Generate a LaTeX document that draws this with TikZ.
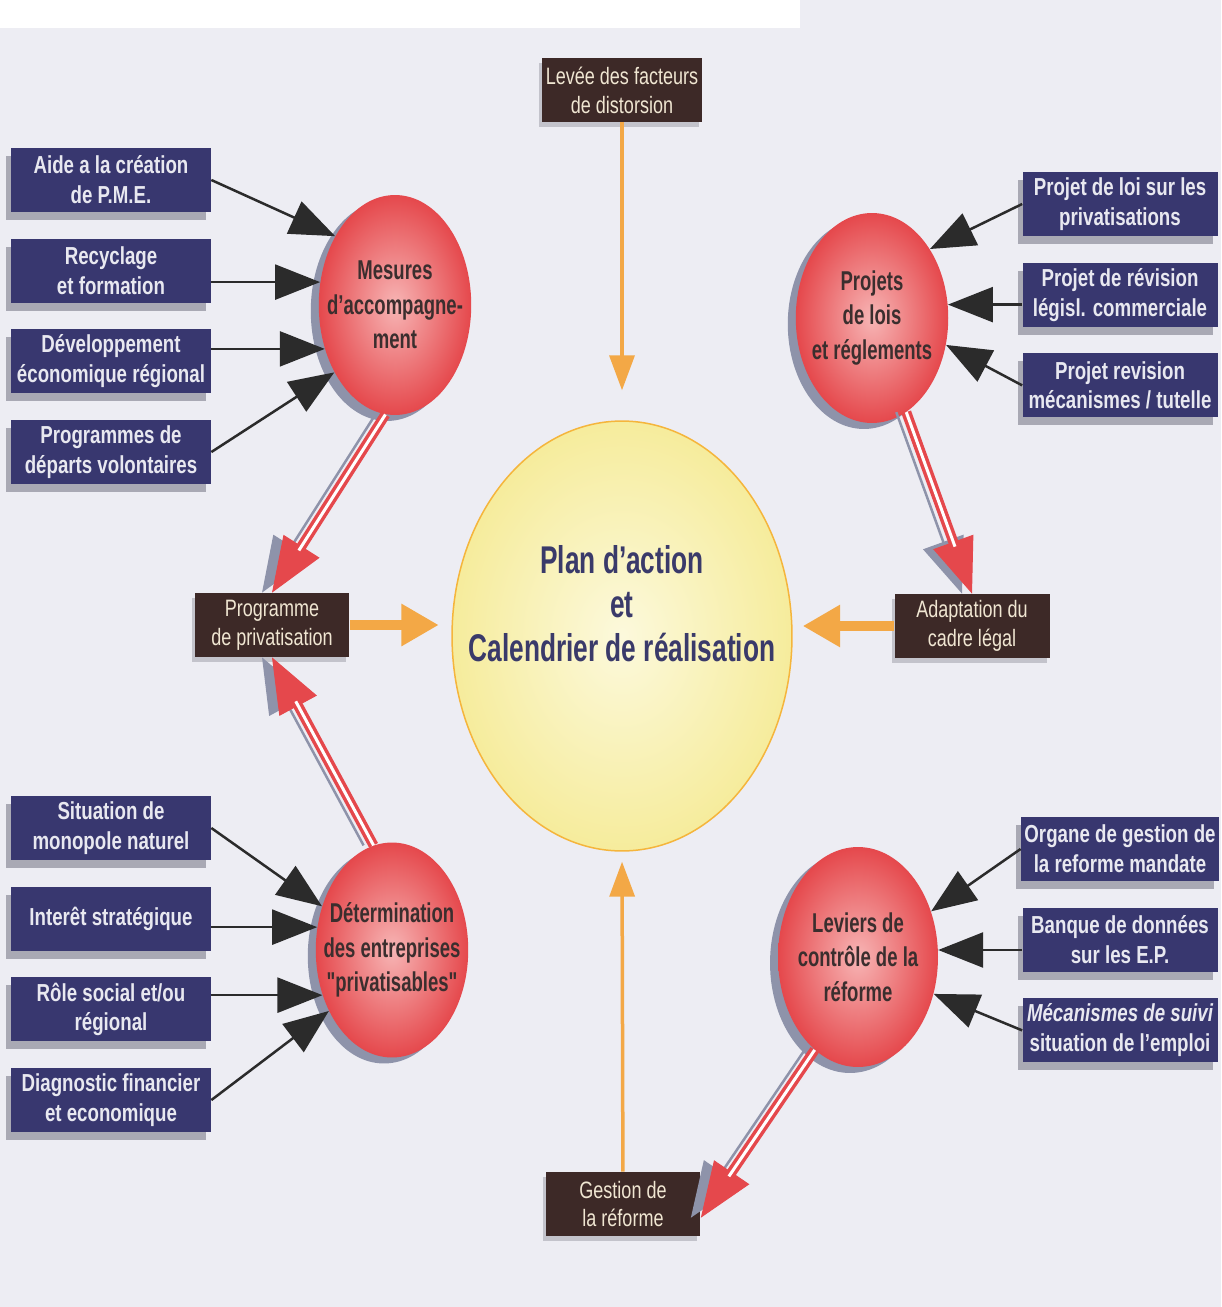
\documentclass[tikz,border=0pt]{standalone}
\usepackage{fontspec}
\setmainfont{Liberation Sans}
\newfontfamily\narrowfont[FakeStretch=0.76]{Liberation Sans}
\newfontfamily\slimfont[FakeStretch=0.68]{Liberation Sans}
\usepackage{tikz}
\usetikzlibrary{shapes.geometric,arrows.meta,positioning,calc,shadows}
\definecolor{pbg}{HTML}{EDEDF3}
\definecolor{pnavy}{HTML}{38376F}
\definecolor{ptxt}{HTML}{E8E8F0}
\definecolor{pbrown}{HTML}{3D2927}
\definecolor{pcream}{HTML}{F0E6D2}
\definecolor{pred}{HTML}{E5484C}
\definecolor{ppink}{HTML}{F7B5B5}
\definecolor{pshade}{HTML}{A9A9B4}
\definecolor{pslate}{HTML}{8E93AA}
\definecolor{porange}{HTML}{F3A846}
\definecolor{pink}{HTML}{2B2B2B}
\definecolor{pnight}{HTML}{3A3A6A}
\definecolor{pdark}{HTML}{3B2E2E}
\definecolor{pcorn}{HTML}{F6EC9C}
\definecolor{pcream2}{HTML}{FCF9DC}
\tikzset{
  factor/.style={rectangle,fill=pnavy,minimum width=4cm,minimum height=1.28cm,
                 inner sep=2pt,align=center,text=ptxt,
                 font=\narrowfont\bfseries\fontsize{14}{17}\selectfont,
                 drop shadow={shadow xshift=-0.1cm,shadow yshift=-0.16cm,fill=pshade,opacity=1}},
  outcome/.style={rectangle,fill=pbrown,minimum width=3.1cm,minimum height=1.28cm,
                  inner sep=2pt,align=center,text=pcream,
                  font=\narrowfont\fontsize{13.5}{16.5}\selectfont,
                  drop shadow={shadow xshift=-0.06cm,shadow yshift=-0.1cm,fill=pshade!70,opacity=1}},
  pole/.style={ellipse,inner xsep=-0.6cm,inner ysep=-0.3cm,minimum width=3.05cm,minimum height=4.4cm,
               inner color=ppink,outer color=pred,align=center,text=pdark,
               font=\slimfont\bfseries\fontsize{15.5}{19.5}\selectfont,
               drop shadow={shadow xshift=-0.16cm,shadow yshift=-0.12cm,fill=pslate,opacity=1}},
  hub/.style={ellipse,inner sep=0pt,minimum width=6.8cm,minimum height=8.6cm,
              draw=porange!85!yellow,line width=0.03cm,inner color=pcream2,outer color=pcorn},
  feed/.style={-{Triangle[length=0.9cm,width=0.7cm]},draw=pink,line width=0.05cm},
  flow/.style={-{Triangle[length=0.75cm,width=0.8cm]},draw=porange,line width=0.2cm},
  lane/.style={-{Triangle[length=0.7cm,width=0.5cm]},draw=porange,line width=0.07cm},
  relayshade/.style={-{Triangle[length=1.1cm,width=0.85cm]},draw=pslate,fill=pslate,
                     line width=0.05cm,transform canvas={xshift=-0.2cm}},
  relayhead/.style={-{Triangle[length=1.1cm,width=0.85cm]},draw=pred,fill=pred,line width=0.02cm},
  relayline/.style={draw=pred,double=white,double distance=0.06cm,line width=0.07cm,shorten >=1cm},
}
\begin{document}
\begin{tikzpicture}[x=0.02cm,y=-0.02cm,node distance=0.52cm]
  \fill[pbg] (0,0) rectangle (1221,1307);
  \fill[white] (0,0) rectangle (800,28);
  \useasboundingbox (0,0) rectangle (1221,1307);

  % centre
  \node[hub] (hub) at (622,636) {};
  \node[align=center,text=pnight,font=\slimfont\bfseries\fontsize{22}{25}\selectfont]
    (hubtext) at ([yshift=0.64cm]hub.center) {Plan d’action\\et\\Calendrier de réalisation};

  % the four poles
  \node[pole] (mesures) at (395,305) {Mesures\\d’accompagne-\\ment};
  \node[pole,minimum height=4.2cm] (projets) at (872,318) {Projets\\de lois\\et réglements};
  \node[pole,minimum height=4.3cm] (determ) at (392,950) {Détermination\\des entreprises\\"privatisables"};
  \node[pole,minimum width=3.2cm] (leviers) at (858,957) {Leviers de\\contrôle de la\\réforme};

  % brown outcomes
  \node[outcome,minimum width=3.2cm] (levee) at (622,90) {Levée des facteurs\\de distorsion};
  \node[outcome] (prog) at (272,625) {Programme\\de privatisation};
  \node[outcome] (adapt) at (972,626) {Adaptation du\\cadre légal};
  \node[outcome] (gestion) at (623,1204) {Gestion de\\la réforme};

  % left, top
  \node[factor] (m1) at (111,180) {Aide a la création\\de P.M.E.};
  \node[factor,below=of m1] (m2) {Recyclage\\et formation};
  \node[factor,below=of m2] (m3) {Développement\\économique régional};
  \node[factor,below=of m3] (m4) {Programmes de\\départs volontaires};

  % right, top
  \node[factor,minimum width=3.9cm] (p1) at (1120,204) {Projet de loi sur les\\privatisations};
  \node[factor,minimum width=3.9cm,below=of p1] (p2) {Projet de révision\\législ. commerciale};
  \node[factor,minimum width=3.9cm,below=of p2] (p3) {Projet revision\\mécanismes / tutelle};

  % left, bottom
  \node[factor] (d1) at (111,828) {Situation de\\monopole naturel};
  \node[factor,below=of d1] (d2) {Interêt stratégique};
  \node[factor,below=of d2] (d3) {Rôle social et/ou\\régional};
  \node[factor,below=of d3] (d4) {Diagnostic financier\\et economique};

  % right, bottom
  \node[factor,minimum width=3.9cm] (l1) at (1120,849) {Organe de gestion de\\la reforme mandate};
  \node[factor,minimum width=3.9cm,below=of l1] (l2) {Banque de données\\sur les E.P.};
  \node[factor,minimum width=3.9cm,below=of l2] (l3) {{\itshape Mécanismes de suivi}\\situation de l’emploi};

  % inputs
  \draw[feed] (m1.east) -- (mesures.131);
  \draw[feed] (m2.east |- mesures.163) -- (mesures.163);
  \draw[feed] (m3.east |- mesures.212) -- (mesures.212);
  \draw[feed] (m4.east) -- (mesures.228);
  \draw[feed] (p1.west) -- (projets.50);
  \draw[feed] (p2.west |- projets.10) -- (projets.10);
  \draw[feed] (p3.west) -- (projets.340);
  \draw[feed] (d1.east) -- (determ.148);
  \draw[feed] (d2.east |- determ.163) -- (determ.163);
  \draw[feed] (d3.east |- determ.213) -- (determ.213);
  \draw[feed] (d4.east) -- (determ.224);
  \draw[feed] (l1.west) -- (leviers.32);
  \draw[feed] (l2.west |- leviers.5) -- (leviers.5);
  \draw[feed] (l3.west) -- (leviers.334);

  % poles to outcomes
  \foreach \a/\b in {mesures.265/prog.north,determ.100/prog.south,
                     projets.290/adapt.north,leviers.245/gestion.-10}{
    \draw[relayshade] (\a) -- (\b);
    \draw[relayhead] (\a) -- (\b);
    \draw[relayline] (\a) -- (\b);
  }

  % outcomes to centre
  \draw[lane,shorten >=0.6cm] (levee) -- (hub.north);
  \draw[lane,shorten >=0.2cm] (gestion) -- (hub.south);
  \draw[flow,shorten >=0.25cm] (prog.east) -- (prog.east -| hub.west);
  \draw[flow,shorten >=0.2cm] (adapt.west) -- (adapt.west -| hub.east);
\end{tikzpicture}
\end{document}
